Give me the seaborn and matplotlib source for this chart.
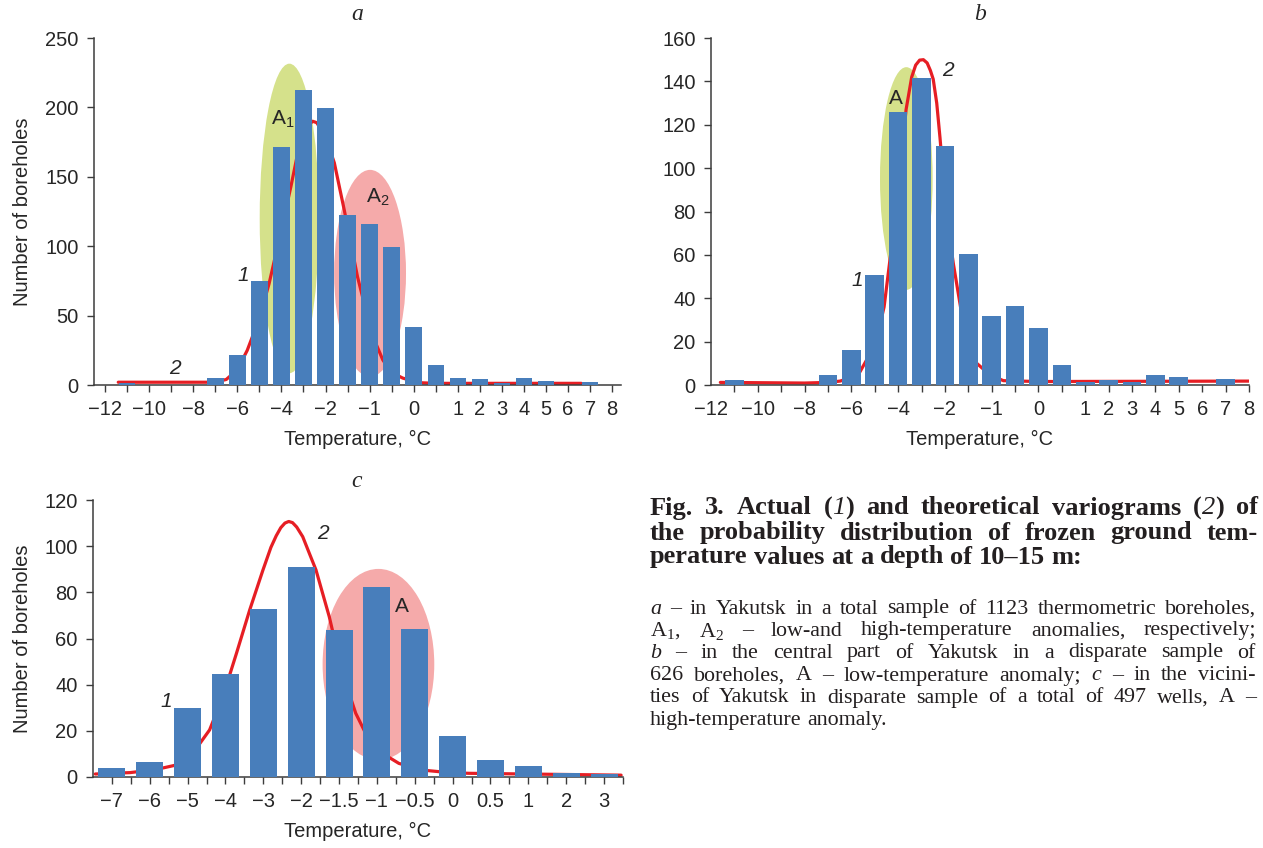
import numpy as np
import pandas as pd
import matplotlib
matplotlib.use("Agg")
import matplotlib.pyplot as plt
import seaborn as sns
from matplotlib.patches import Ellipse
from matplotlib.ticker import FixedLocator

# ---- data (slot index -> number of boreholes) ----
a_counts = [0, 1.7, 0, 0, 0, 5, 21.5, 75, 171.5, 212.5, 199.5, 122.5, 116, 99.5,
            42, 14.4, 5.3, 4.3, 1.7, 5.3, 3.1, 0, 2.2, 0]
a_tick_slots = [0, 2, 4, 6, 8, 10, 12, 14, 16, 17, 18, 19, 20, 21, 22, 23]
a_tick_labels = ["−12", "−10", "−8", "−6", "−4", "−2", "−1", "0",
                 "1", "2", "3", "4", "5", "6", "7", "8"]
a_curve_x = [0.6, 5.0, 5.5, 6.0, 6.45, 7.0, 7.44, 8.0, 8.43, 8.7, 9.0, 9.2, 9.42,
             9.6, 9.8, 10.1, 10.4, 10.85, 11.45, 11.83, 12.2, 12.6, 13.0, 13.5,
             14.2, 15.0, 21.6]
a_curve_y = [2, 2, 4, 11, 25, 48, 73, 112, 143, 164, 180, 187, 190,
             189, 184, 174, 160, 126, 78, 54, 33, 18, 9, 5,
             1.7, 1.2, 1.2]

b_counts = [2.1, 0, 0, 0, 4.5, 16.2, 50.7, 126, 141.5, 110.3, 60.5, 32, 36.2, 26.1,
            9.1, 1.5, 2.1, 1.2, 4.5, 3.5, 0, 2.6]
b_tick_slots = [-1, 1, 3, 5, 7, 9, 11, 13, 15, 16, 17, 18, 19, 20, 21, 22]
b_tick_labels = a_tick_labels
b_curve_x = [-0.6, 3.0, 4.0, 4.52, 5.0, 5.37, 5.65, 6.1, 6.4, 6.7, 7.08, 7.34, 7.58,
             7.75, 7.92, 8.08, 8.24, 8.38, 8.5, 8.65, 8.79, 9.07, 9.36, 9.79, 10.36,
             10.93, 11.5, 13.0, 22.0]
b_curve_y = [1.2, 0.9, 1.2, 1.8, 3.5, 6.1, 11.5, 22, 36, 62, 99, 127, 142,
             147.5, 149.8, 150, 148.5, 145, 141, 130, 114, 78, 56, 28, 10,
             4.6, 2.0, 1.6, 1.8]

c_counts = [4.0, 6.5, 30, 44.5, 72.6, 90.8, 63.6, 82.1, 63.9, 17.9, 7.3, 4.8, 1.7, 1.1]
c_tick_labels = ["−7", "−6", "−5", "−4", "−3", "−2", "−1.5", "−1", "−0.5",
                 "0", "0.5", "1", "2", "3"]
c_curve_x = [-0.44, 0.48, 1.18, 1.7, 2.0, 2.23, 2.58, 2.93, 3.29, 3.64, 3.99, 4.2,
             4.34, 4.46, 4.57, 4.67, 4.77, 4.88, 5.04, 5.2, 5.39, 5.74, 6.09, 6.44,
             6.79, 7.14, 7.58, 8.2, 8.9, 9.43, 13.45]
c_curve_y = [1.3, 1.9, 3.3, 5.2, 8.5, 12.4, 20.4, 34.8, 53.6, 72.4, 89.7, 99.5,
             104.5, 108, 110, 110.7, 110.2, 108.3, 104.1, 97.5, 89.7, 69.5, 44.9, 27.6,
             16, 10.3, 5.9, 3.0, 1.9, 1.6, 0.8]

BLUE = "#487ebb"
RED = "#e61e24"
GREEN = "#d5e18b"
PINK = "#f5aaaa"
SPINE = "#3c3c3c"

sns.set_style("white")
plt.rcParams["font.family"] = ["Liberation Sans", "DejaVu Sans"]
plt.rcParams["mathtext.fontset"] = "custom"
plt.rcParams["mathtext.rm"] = "Liberation Serif"
plt.rcParams["mathtext.it"] = "Liberation Serif:italic"
plt.rcParams["mathtext.sf"] = "Liberation Sans"

W, H = 1263, 848
fig = plt.figure(figsize=(W / 100, H / 100), dpi=100)


def box(x0, x1, ytop, ybot):
    return [x0 / W, 1 - ybot / H, (x1 - x0) / W, (ybot - ytop) / H]


def panel(ax, counts, cx, cy, width, minor, ticks, labels, xlim, yticks):
    df = pd.DataFrame({"slot": np.arange(len(counts)), "n": counts})
    sns.barplot(data=df, x="slot", y="n", native_scale=True, width=width,
                color=BLUE, saturation=1, ax=ax, zorder=3, linewidth=0)
    sns.lineplot(x=cx, y=cy, sort=False, color=RED, lw=2.3, ax=ax, zorder=2)
    ax.set_xlim(*xlim)
    ax.set_ylim(yticks[0], yticks[-1])
    ax.set_yticks(yticks)
    ax.xaxis.set_major_locator(FixedLocator(ticks))
    ax.set_xticklabels(labels)
    ax.xaxis.set_minor_locator(FixedLocator(minor))
    ax.xaxis.remove_overlapping_locs = False
    ax.tick_params(axis="x", which="major", length=0, pad=11, labelsize=14.5)
    ax.tick_params(axis="x", which="minor", length=5, width=1, color=SPINE,
                   direction="out", bottom=True)
    ax.tick_params(axis="y", length=5, width=1, color=SPINE, direction="out",
                   left=True, pad=6, labelsize=14.5)
    for s in ["top", "right"]:
        ax.spines[s].set_visible(False)
    for s in ["left", "bottom"]:
        ax.spines[s].set_color(SPINE)
        ax.spines[s].set_linewidth(1.1)
    ax.set_xlabel("Temperature, °C", fontsize=14.5, labelpad=8)
    ax.set_ylabel("")


# ---- panel a ----
ax_a = fig.add_axes(box(94, 621, 38, 385))
panel(ax_a, a_counts, a_curve_x, a_curve_y, 0.75, np.arange(24), a_tick_slots,
      a_tick_labels, (-0.5, 23.4), np.arange(0, 251, 50))
ax_a.add_patch(Ellipse((8.36, 120), 2.69, 223, color=GREEN, zorder=1, lw=0))
ax_a.add_patch(Ellipse((12.02, 80.5), 3.26, 149, color=PINK, zorder=1, lw=0))
ax_a.text(8.05, 192, "A$_\\mathsf{1}$", fontsize=15, ha="center", va="center", zorder=4)
ax_a.text(12.36, 135.6, "A$_\\mathsf{2}$", fontsize=15, ha="center", va="center", zorder=4)
ax_a.text(6.26, 79, "1", fontsize=15, style="italic", ha="center", va="center", zorder=4)
ax_a.text(3.17, 12.2, "2", fontsize=15, style="italic", ha="center", va="center", zorder=4)
ax_a.set_ylabel("Number of boreholes", fontsize=14.5)
ax_a.yaxis.set_label_coords(-0.118, 0.5)

# ---- panel b ----
ax_b = fig.add_axes(box(711, 1249, 38, 385))
panel(ax_b, b_counts, b_curve_x, b_curve_y, 0.8, np.arange(23), b_tick_slots,
      b_tick_labels, (-1, 22), np.arange(0, 161, 20))
ax_b.add_patch(Ellipse((7.35, 95.2), 2.25, 102.7, color=GREEN, zorder=1, lw=0))
ax_b.text(6.91, 132.2, "A", fontsize=15, ha="center", va="center", zorder=4)
ax_b.text(9.15, 145.2, "2", fontsize=15, style="italic", ha="center", va="center", zorder=4)
ax_b.text(5.26, 48.4, "1", fontsize=15, style="italic", ha="center", va="center", zorder=4)

# ---- panel c ----
ax_c = fig.add_axes(box(93, 623, 500, 777))
panel(ax_c, c_counts, c_curve_x, c_curve_y, 0.71, np.arange(0, 13.6, 0.5),
      np.arange(len(c_tick_labels)), c_tick_labels, (-0.5, 13.5),
      np.arange(0, 121, 20))
ax_c.add_patch(Ellipse((7.04, 48.8), 2.95, 82.7, color=PINK, zorder=1, lw=0))
ax_c.text(7.67, 74, "A", fontsize=15, ha="center", va="center", zorder=4)
ax_c.text(5.57, 105.6, "2", fontsize=15, style="italic", ha="center", va="center", zorder=4)
ax_c.text(1.44, 32.6, "1", fontsize=15, style="italic", ha="center", va="center", zorder=4)
ax_c.set_ylabel("Number of boreholes", fontsize=14.5)
ax_c.yaxis.set_label_coords(-0.116, 0.5)

# panel letters
for x, y, s in [(357, 14, "a"), (980, 14, "b"), (357, 481, "c")]:
    fig.text(x / W, 1 - y / H, s, family="Liberation Serif", style="italic",
             fontsize=17, ha="center", va="center")

# ---- caption, justified word by word ----
renderer = fig.canvas.get_renderer()


def S(t, **kw):
    return (t, kw)


def lay_line(words, y, x0, x1, base, justify):
    arts = []
    widths = []
    for w in words:
        parts = w if isinstance(w, list) else [S(w)]
        ws = []
        for t, kw in parts:
            props = dict(base)
            props.update(kw)
            tx = fig.text(0, 1 - y / H, t, va="center", ha="left", **props)
            ws.append(tx.get_window_extent(renderer).width)
            arts.append(tx)
        widths.append(ws)
    tot = sum(sum(ws) for ws in widths)
    sp_nat = base["fontsize"] * 100 / 72 * 0.25
    gap = (x1 - x0 - tot) / (len(words) - 1) if justify else sp_nat
    x = x0
    k = 0
    for ws in widths:
        for wpart in ws:
            arts[k].set_x(x / W)
            x += wpart
            k += 1
        x += gap


bold = dict(family="Liberation Serif", weight="bold", fontsize=19, color="#231f20")
cap_lines = [
    ["Fig.", "3.", "Actual", [S("("), S("1", style="italic", weight="normal"), S(")")],
     "and", "theoretical", "variograms",
     [S("("), S("2", style="italic", weight="normal"), S(")")], "of"],
    "the probability distribution of frozen ground tem-".split(),
    "perature values at a depth of 10–15 m:".split(),
]
for i, (ln, y) in enumerate(zip(cap_lines, [508, 533, 557])):
    lay_line(ln, y, 650, 1258, bold, i < 2)

reg = dict(family="Liberation Serif", fontsize=15.8, color="#231f20")
body_lines = [
    [[S("a", style="italic")]] + "– in Yakutsk in a total sample of 1123 thermometric boreholes,".split(),
    ["A$_1$,", "A$_2$", "–", "low-and", "high-temperature", "anomalies,", "respectively;"],
    [[S("b", style="italic")]] + "– in the central part of Yakutsk in a disparate sample of".split(),
    "626 boreholes, A – low-temperature anomaly;".split() + [[S("c", style="italic")]] + "– in the vicini-".split(),
    "ties of Yakutsk in disparate sample of a total of 497 wells, A –".split(),
    "high-temperature anomaly.".split(),
]
for i, (ln, y) in enumerate(zip(body_lines, [609, 631, 653, 676, 698, 720])):
    lay_line(ln, y, 650, 1256, reg, i < 5)

fig.savefig("out.png", dpi=100)
